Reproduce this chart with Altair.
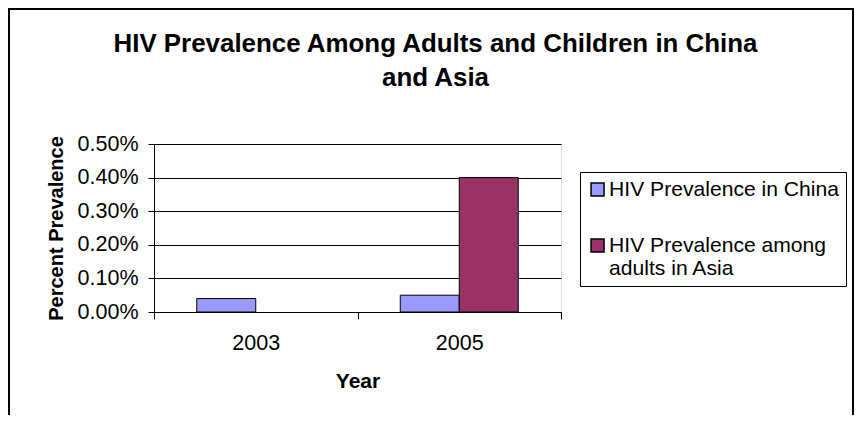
import altair as alt
import pandas as pd

years = ["2003", "2005"]
series = ["HIV Prevalence in China", "HIV Prevalence among adults in Asia"]
china = [0.04, 0.05]
asia = [None, 0.40]
colors = ["#9999FF", "#993366"]
y_ticks = [0.0, 0.1, 0.2, 0.3, 0.4, 0.5]

rows = []
for i, yr in enumerate(years):
    if china[i] is not None:
        rows.append({"Year": yr, "Series": series[0], "Value": china[i]})
    if asia[i] is not None:
        rows.append({"Year": yr, "Series": series[1], "Value": asia[i]})
df = pd.DataFrame(rows)

FONT = "Liberation Sans, Arial, sans-serif"
LBL = 21.5

bars = alt.Chart(df).mark_bar(stroke="black", strokeWidth=1).encode(
    x=alt.X("Year:N", sort=years,
            scale=alt.Scale(domain=years, paddingInner=0, paddingOuter=0),
            axis=alt.Axis(title="Year", labelAngle=0, tickBand="extent",
                          labelFontSize=LBL, labelFont=FONT, labelColor="black",
                          labelPadding=13, tickSize=7, tickColor="black",
                          domainColor="black", titleFontSize=21, titleFont=FONT,
                          titleFontWeight="bold", titleColor="black", titlePadding=17,
                          grid=False)),
    xOffset=alt.XOffset("Series:N", sort=series,
                        scale=alt.Scale(domain=series, paddingInner=0, paddingOuter=0.725)),
    y=alt.Y("Value:Q", scale=alt.Scale(domain=[0, 0.5], nice=False),
            axis=alt.Axis(title="Percent Prevalence", values=y_ticks,
                          labelExpr="format(datum.value, '.2f') + '%'",
                          labelFontSize=LBL, labelFont=FONT, labelColor="black",
                          labelPadding=10, tickSize=6, tickColor="black",
                          domainColor="black", grid=True, gridColor="black",
                          gridWidth=1, titleFontSize=20, titleFont=FONT,
                          titleFontWeight="bold", titleColor="black", titlePadding=11)),
    color=alt.Color("Series:N", sort=series,
                    scale=alt.Scale(domain=series, range=colors),
                    legend=alt.Legend(
                        title=None, orient="none", legendX=426, legendY=28,
                        symbolType="square", symbolSize=169, symbolStrokeColor="black",
                        symbolStrokeWidth=1.5, labelFontSize=21.1, labelFont=FONT,
                        labelColor="black", labelOffset=1, labelLimit=400,
                        labelExpr="datum.label == 'HIV Prevalence among adults in Asia' ? ['HIV Prevalence among', 'adults in Asia'] : datum.label",
                        strokeColor="black", fillColor="white", padding=7,
                        rowPadding=34, symbolOpacity=1)),
)

frame_df = pd.DataFrame({"k": [0]})
frame = alt.Chart(frame_df).mark_rect(fill=None, stroke="black", strokeWidth=2).encode(
    x=alt.value(-145), x2=alt.value(699), y=alt.value(-135), y2=alt.value(290)
)

chart = alt.layer(frame, bars).properties(
    width=407, height=168,
    title=alt.TitleParams(
        text=["HIV Prevalence Among Adults and Children in China", "and Asia"],
        fontSize=25.9, font=FONT, fontWeight="bold", color="black",
        anchor="middle", dx=78, offset=-84, lineHeight=34),
    autosize=alt.AutoSizeParams(type="none"),
    padding={"left": 146, "top": 136, "right": 293, "bottom": 103},
).configure_view(
    fill="#C0C0C0", stroke="#808080", strokeWidth=1
).configure(background="white")

chart.save("out.html", embed_options={"renderer": "svg", "actions": False})
